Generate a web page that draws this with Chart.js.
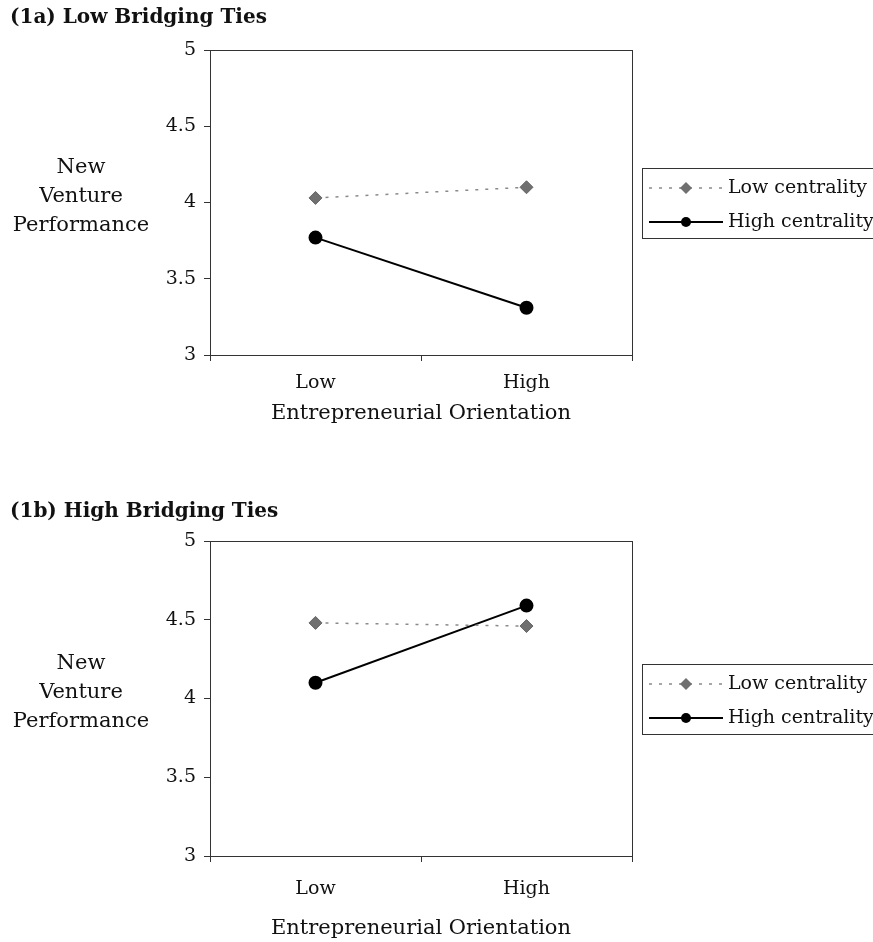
<!DOCTYPE html>
<html>
<head>
<meta charset="utf-8">
<script src="https://cdn.jsdelivr.net/npm/chart.js@4.4.1/dist/chart.umd.min.js"></script>
<style>
  html, body { margin: 0; padding: 0; background: #fff; }
  .panel { width: 873px; height: 471px; position: relative; }
</style>
</head>
<body>
<div class="panel"><canvas id="chart1a" width="873" height="471"></canvas></div>
<div class="panel"><canvas id="chart1b" width="873" height="471"></canvas></div>
<script>
// data
const categories = ['Low', 'High'];
const seriesNames = ['Low centrality', 'High centrality'];
const yTickValues = [3, 3.5, 4, 4.5, 5];
const yLabelLines = ['New', 'Venture', 'Performance'];

const lowCentrality1a = [4.03, 4.10];
const highCentrality1a = [3.77, 3.31];
const lowCentrality1b = [4.48, 4.46];
const highCentrality1b = [4.10, 4.59];

const FONT = "'DejaVu Serif', 'Liberation Serif', serif";

// box around the plot area
const framePlugin = {
    id: 'frame',
    afterDraw(chart) {
        const a = chart.chartArea;
        const ctx = chart.ctx;
        ctx.save();
        ctx.strokeStyle = '#333';
        ctx.lineWidth = 1;
        ctx.strokeRect(Math.round(a.left) + 0.5, Math.round(a.top) + 0.5, Math.round(a.right - a.left), Math.round(a.bottom - a.top));
        ctx.restore();
    }
};

// panel title, horizontal y label and boxed legend
const textPlugin = {
    id: 'panelText',
    afterDraw(chart, args, opts) {
        const ctx = chart.ctx;
        const a = chart.chartArea;
        const mid = (a.top + a.bottom) / 2;
        ctx.save();
        ctx.fillStyle = '#111';
        ctx.textBaseline = 'middle';

        // title
        ctx.font = 'bold 20px ' + FONT;
        ctx.textAlign = 'left';
        ctx.fillText(opts.title, 10, opts.titleY);

        // y axis label
        ctx.font = '21px ' + FONT;
        ctx.textAlign = 'center';
        yLabelLines.forEach((t, i) => {
            ctx.fillText(t, 81, mid - 6 + (i - 1) * 29);
        });

        // legend
        const boxTop = Math.round(mid - 35);
        ctx.strokeStyle = '#333';
        ctx.lineWidth = 1;
        ctx.strokeRect(642.5, boxTop + 0.5, 260, 70);
        chart.data.datasets.forEach((ds, i) => {
            const y = boxTop + (i === 0 ? 20 : 54);
            ctx.save();
            ctx.strokeStyle = ds.borderColor;
            ctx.lineWidth = ds.borderWidth;
            ctx.setLineDash(ds.borderDash || []);
            ctx.beginPath();
            ctx.moveTo(649, y);
            ctx.lineTo(723, y);
            ctx.stroke();
            ctx.restore();
            ctx.fillStyle = ds.pointBackgroundColor;
            ctx.beginPath();
            if (ds.pointStyle === 'rectRot') {
                ctx.moveTo(686, y - 6);
                ctx.lineTo(692, y);
                ctx.lineTo(686, y + 6);
                ctx.lineTo(680, y);
                ctx.closePath();
            } else {
                ctx.arc(686, y, 5, 0, Math.PI * 2);
            }
            ctx.fill();
            ctx.fillStyle = '#111';
            ctx.textAlign = 'left';
            ctx.font = '19px ' + FONT;
            ctx.fillText(ds.label, 728, y);
        });
        ctx.restore();
    }
};

function makeChart(id, lowData, highData, cfg) {
    const ctx = document.getElementById(id).getContext('2d');
    return new Chart(ctx, {
        type: 'line',
        data: {
            labels: categories,
            datasets: [{
                label: seriesNames[0],
                data: lowData,
                borderColor: '#8a8a8a',
                borderWidth: 1.5,
                borderDash: [3, 7],
                pointStyle: 'rectRot',
                pointRadius: 6.5,
                pointBackgroundColor: '#707070',
                pointBorderColor: '#666',
                pointBorderWidth: 1
            }, {
                label: seriesNames[1],
                data: highData,
                borderColor: '#000',
                borderWidth: 2,
                pointStyle: 'circle',
                pointRadius: 6,
                pointBackgroundColor: '#000',
                pointBorderColor: '#000'
            }]
        },
        options: {
            responsive: false,
            animation: false,
            layout: { padding: { left: 0, right: 241, top: cfg.top, bottom: 0 } },
            plugins: {
                legend: { display: false },
                tooltip: { enabled: false },
                panelText: { title: cfg.title, titleY: cfg.titleY }
            },
            scales: {
                x: {
                    offset: true,
                    grid: { offset: true, drawOnChartArea: false, drawTicks: true, tickLength: 6, color: '#333' },
                    border: { color: '#333' },
                    ticks: { color: '#111', padding: cfg.xTickPad, font: { family: FONT, size: 19 } },
                    title: {
                        display: true,
                        text: 'Entrepreneurial Orientation',
                        color: '#111',
                        font: { family: FONT, size: 21 },
                        padding: { top: 0, bottom: cfg.xTitlePad }
                    },
                    afterFit(scale) { scale.height = cfg.xHeight; }
                },
                y: {
                    min: 3,
                    max: 5,
                    afterBuildTicks(scale) { scale.ticks = yTickValues.map(v => ({ value: v })); },
                    grid: { drawOnChartArea: false, drawTicks: true, tickLength: 6, color: '#333' },
                    border: { color: '#333' },
                    ticks: {
                        color: '#111',
                        padding: 8,
                        font: { family: FONT, size: 19 },
                        callback: v => String(v)
                    },
                    afterFit(scale) { scale.width = 210; }
                }
            }
        },
        plugins: [framePlugin, textPlugin]
    });
}

makeChart('chart1a', lowCentrality1a, highCentrality1a,
    { title: '(1a) Low Bridging Ties', titleY: 18, top: 50, xHeight: 116, xTickPad: 11, xTitlePad: 45 });
makeChart('chart1b', lowCentrality1b, highCentrality1b,
    { title: '(1b) High Bridging Ties', titleY: 41, top: 70, xHeight: 86, xTickPad: 16, xTitlePad: 1 });
</script>
</body>
</html>
